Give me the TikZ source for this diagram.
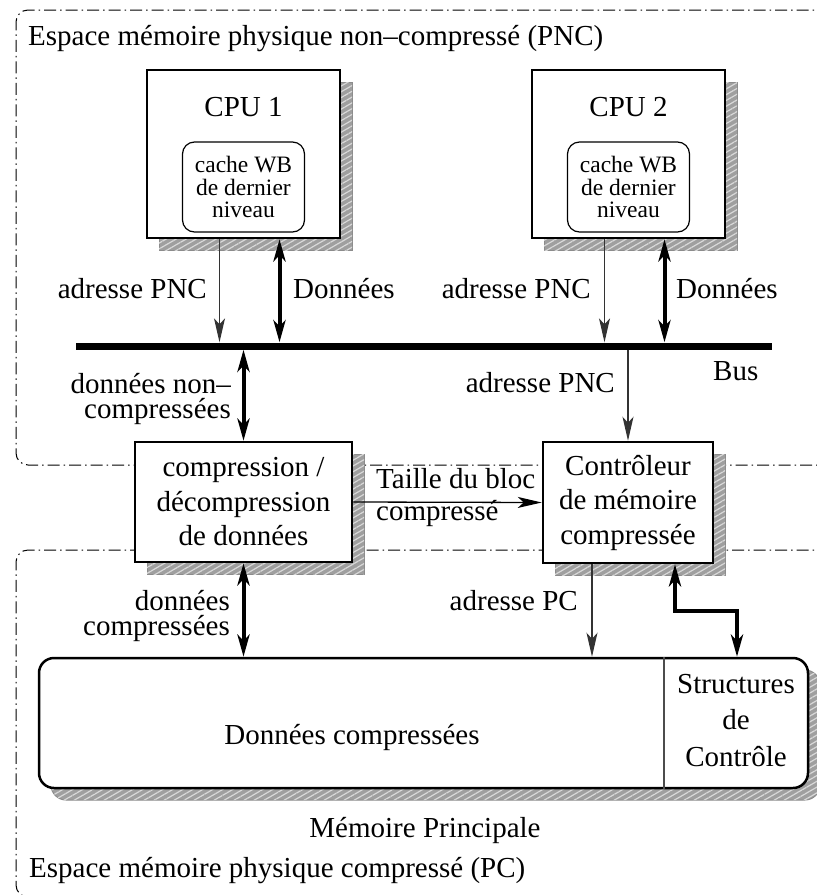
\documentclass[tikz,border=0pt]{standalone}
\usepackage{fontspec}
\setmainfont{Liberation Serif}
\usetikzlibrary{arrows.meta,shadows,patterns.meta}

\begin{document}
\begin{tikzpicture}[x=1pt,y=-1pt,
    lbl/.style={inner sep=0pt,font=\fontsize{29}{25.5}\selectfont},
    box/.style={draw,line width=2.5pt,fill=white,inner sep=0pt,align=center,
      font=\fontsize{29}{34.5}\selectfont,
      general shadow={shadow xshift=12pt,shadow yshift=-12pt,fill=gray!75,draw=gray!90,line width=1pt},
      general shadow={shadow xshift=12pt,shadow yshift=-12pt,
        pattern={Lines[angle=30,distance=5pt,line width=1.2pt]},pattern color=gray!30}},
    cachebox/.style={draw,line width=1.2pt,rounded corners=12pt,minimum width=122pt,
      minimum height=90pt,inner sep=0pt,align=center,font=\fontsize{23.5}{22.5}\selectfont},
    region/.style={line width=1pt,dash pattern=on 12pt off 4pt on 1.5pt off 4pt,rounded corners=12pt},
    thinarrow/.style={line width=1.3pt,draw=black!80,-{Stealth[length=24pt,width=11pt,inset=6pt]}},
    thickarrow/.style={line width=4pt,
      {Stealth[length=22pt,width=12pt,inset=6pt]}-{Stealth[length=22pt,width=12pt,inset=6pt]}}]
\useasboundingbox (0,0) rectangle (817,895);
\clip (0,0) rectangle (817,895);

\draw[region] (830,10) -- (16,10) -- (16,465) -- (830,465);
\draw[region] (830,550) -- (16,550) -- (16,897) -- (830,897);
\node[lbl,anchor=base west] (pnc) at (28,45) {Espace mémoire physique non–compressé (PNC)};
\node[lbl,anchor=base west] (pc) at (29,877) {Espace mémoire physique compressé (PC)};

\node[box,minimum width=193pt,minimum height=168pt] (cpuA) at (243.5,154) {};
\node[box,minimum width=193pt,minimum height=168pt,xshift=385pt] (cpuB) at (cpuA) {};
\node[lbl,anchor=base] (cpuAlbl) at ([yshift=-48pt]cpuA.north) {CPU 1};
\node[lbl,anchor=base] (cpuBlbl) at ([yshift=-48pt]cpuB.north) {CPU 2};
\node[cachebox] (cacheA) at ([yshift=-33pt]cpuA.center) {cache WB\\de dernier\\niveau};
\node[cachebox] (cacheB) at ([yshift=-33pt]cpuB.center) {cache WB\\de dernier\\niveau};

\node[fill=black,inner sep=0pt,minimum width=696pt,minimum height=7pt] (bus) at (424,346) {};
\node[lbl,anchor=base west] (buslbl) at (713,380) {Bus};

\draw[thinarrow] ([xshift=-24pt]cpuA.south) -- ([xshift=-24pt]cpuA.south |- bus.north);
\draw[thickarrow] ([xshift=36pt]cpuA.south) -- ([xshift=36pt]cpuA.south |- bus.north);
\draw[thinarrow] ([xshift=-24pt]cpuB.south) -- ([xshift=-24pt]cpuB.south |- bus.north);
\draw[thickarrow] ([xshift=36pt]cpuB.south) -- ([xshift=36pt]cpuB.south |- bus.north);
\node[lbl,anchor=base east] (adrA) at (207,298) {adresse PNC};
\node[lbl,anchor=base west] (donA) at (293,298) {Données};
\node[lbl,anchor=base east] (adrB) at (591,298) {adresse PNC};
\node[lbl,anchor=base west] (donB) at (676,298) {Données};

\node[box,minimum width=217pt,minimum height=120pt] (comp) at (243.5,502) {compression /\\décompression\\de données};
\node[box,minimum width=170pt,minimum height=121pt] (ctrl) at (628,502.5) {Contrôleur\\de mémoire\\compressée};
\draw[thickarrow] (comp.north |- bus.south) -- (comp.north);
\draw[thinarrow] (ctrl.north |- bus.south) -- (ctrl.north);
\node[lbl,anchor=north east,align=right] (dnc) at (231,373) {données non–\\compressées};
\node[lbl,anchor=base east] (adrC) at (615,392) {adresse PNC};
\draw[thinarrow,draw=black] (comp.east) -- (ctrl.west);
\node[lbl,anchor=north west,align=left,font=\fontsize{29}{32}\selectfont] (taille) at (376,468) {Taille du bloc\\compressé};

\node[box,rounded corners=15pt,minimum width=769pt,minimum height=130pt] (mem) at (423.5,723) {};
\draw[line width=1.2pt,black!70] ([xshift=240.5pt]mem.north) -- ([xshift=240.5pt]mem.south);
\node[lbl,anchor=base] (memdata) at (352,744) {Données compressées};
\node[lbl,anchor=north,align=center,font=\fontsize{29}{36.5}\selectfont] (memctl) at (736,674) {Structures\\de\\Contrôle};
\node[lbl,anchor=base] (memlbl) at (425,837) {Mémoire Principale};

\draw[thickarrow] (comp.south) -- (comp.south |- mem.north);
\node[lbl,anchor=north east,align=right] (dc) at (230,590) {données\\compressées};
\draw[thinarrow] ([xshift=-36pt]ctrl.south) -- ([xshift=-36pt]ctrl.south |- mem.north);
\node[lbl,anchor=base east] (adrPC) at (578,610) {adresse PC};
\draw[thickarrow] ([xshift=47pt]ctrl.south) -- ++(0,47) -| ([xshift=313.5pt]mem.north);
\end{tikzpicture}
\end{document}
